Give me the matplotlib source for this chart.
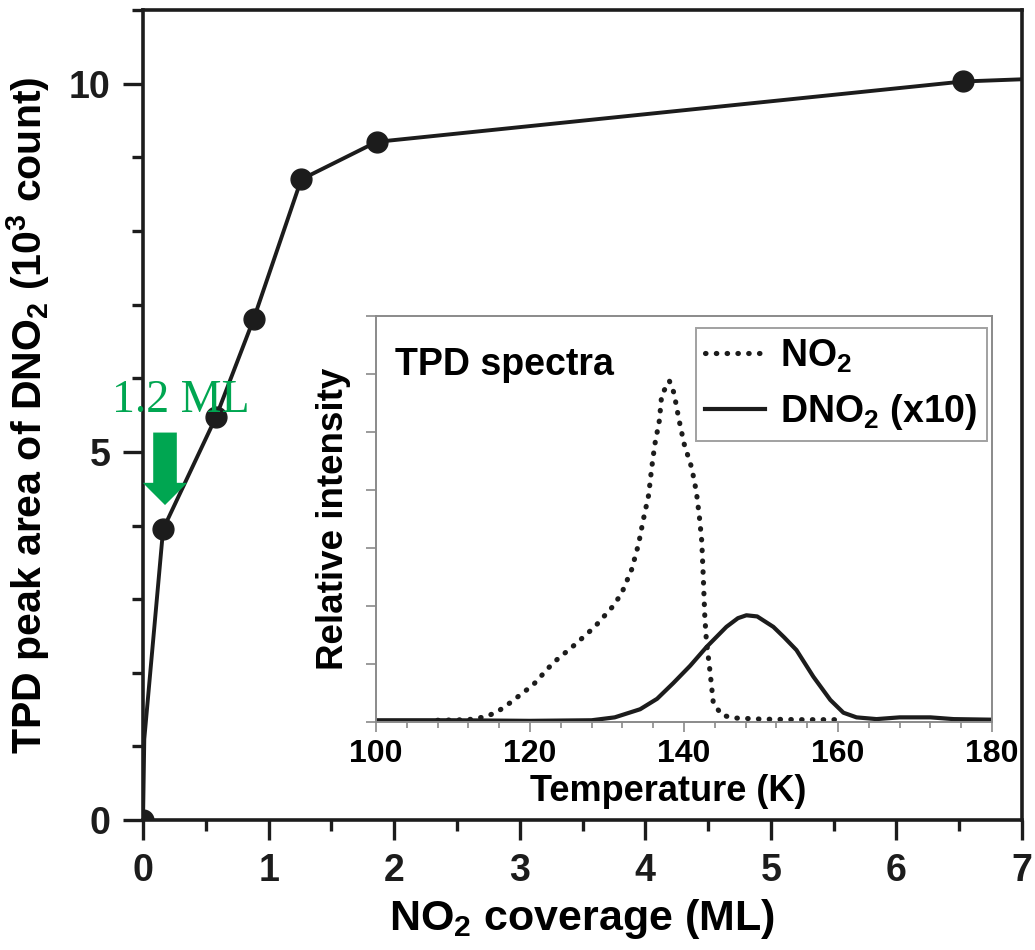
import matplotlib
matplotlib.use("Agg")
import matplotlib.pyplot as plt
from matplotlib.patches import FancyArrowPatch
from matplotlib.ticker import MultipleLocator

plt.rcParams['font.family'] = ['Liberation Sans', 'DejaVu Sans']
plt.rcParams['font.weight'] = 'bold'
plt.rcParams['axes.labelweight'] = 'bold'
plt.rcParams['mathtext.fontset'] = 'custom'
plt.rcParams['mathtext.rm'] = 'Liberation Sans:bold'
plt.rcParams['mathtext.it'] = 'Liberation Sans:bold'
plt.rcParams['mathtext.bf'] = 'Liberation Sans:bold'

# main plot: DNO2 TPD peak area vs NO2 coverage
coverage = [0, 0.01, 0.16, 0.58, 0.88, 1.26, 1.86, 6.53, 7.0]
peak_area = [0, 1.1, 3.95, 5.47, 6.8, 8.7, 9.21, 10.03, 10.06]
marked = [0, 2, 3, 4, 5, 6, 7]

# inset: TPD spectra
t_no2 = [108, 112, 114.2, 115.7, 117.4, 120.4, 123, 125.8, 128.4, 130.8, 131.9,
         133.2, 134.1, 134.7, 135.4, 135.8, 136.2, 136.8, 137.1, 138.1, 138.7,
         139.3, 140, 141, 141.6, 142, 142.3, 142.5, 142.7, 142.9, 143.4, 143.8,
         144.9, 146.4, 150, 155, 160]
i_no2 = [0.03, 0.04, 0.09, 0.17, 0.33, 0.64, 1.02, 1.33, 1.64, 2.0, 2.22,
         2.63, 3.07, 3.48, 3.91, 4.38, 4.78, 5.2, 5.64, 5.88, 5.67,
         5.24, 4.8, 4.38, 3.97, 3.53, 3.12, 2.5, 1.81, 1.41, 0.84, 0.33,
         0.12, 0.07, 0.05, 0.04, 0.04]
t_dno2 = [100, 110, 120, 128, 131, 134.3, 136.5, 138.6, 140.8, 142.9, 145.5,
          147, 148.1, 149.5, 151.6, 153, 154.6, 156.8, 159, 160.7, 162.4, 165,
          168, 172, 175, 180]
i_dno2 = [0.03, 0.03, 0.02, 0.03, 0.08, 0.22, 0.4, 0.67, 0.97, 1.29, 1.64,
          1.79, 1.84, 1.82, 1.64, 1.46, 1.24, 0.78, 0.38, 0.16, 0.08, 0.05,
          0.08, 0.08, 0.05, 0.04]

green = '#00a651'
dark = '#1c1c1c'
grey = '#8a8a8a'

fig = plt.figure(figsize=(10.35, 9.5), dpi=100)
ax = fig.add_axes([0.1382, 0.1368, 0.8493, 0.8526])

ax.plot(coverage, peak_area, color=dark, lw=2.8, marker='o', ms=15,
        markevery=marked)
ax.set_xlim(0, 7)
ax.set_ylim(0, 11)
ax.xaxis.set_major_locator(MultipleLocator(1))
ax.xaxis.set_minor_locator(MultipleLocator(0.5))
ax.yaxis.set_major_locator(MultipleLocator(5))
ax.yaxis.set_minor_locator(MultipleLocator(1))
ax.tick_params(which='both', direction='out', width=2.4, colors=dark,
               top=False, right=False)
ax.tick_params(which='major', length=14.5, labelsize=27, pad=9)
ax.tick_params(which='minor', length=8)
for s in ax.spines.values():
    s.set_linewidth(2.6)
    s.set_color(dark)
ax.set_xlabel(r'NO$_2$ coverage (ML)', fontsize=31, labelpad=6)
ax.set_ylabel(r'TPD peak area of DNO$_2$ (10$^3$ count)', fontsize=29.5,
              labelpad=12)

# 1.2 ML marker
ax.text(0.30, 5.54, '1.2 ML', color=green, fontsize=33, ha='center',
        va='baseline', family='Liberation Serif', weight='normal',
        clip_on=False)
arrow = FancyArrowPatch((0.175, 5.3), (0.175, 4.24),
                        arrowstyle='simple,head_length=16,head_width=32,tail_width=17',
                        mutation_scale=1, color=green, lw=0, zorder=5)
ax.add_patch(arrow)

# inset
axi = fig.add_axes([0.3633, 0.24, 0.5952, 0.4274])
axi.plot(t_no2, i_no2, color=dark, lw=3.7, linestyle=(0, (0.1, 2.0)),
         dash_capstyle='round', label=r'NO$_2$')
axi.plot(t_dno2, i_dno2, color=dark, lw=3.0, label=r'DNO$_2$ (x10)')
axi.set_xlim(100, 180)
axi.set_ylim(0, 7)
axi.xaxis.set_major_locator(MultipleLocator(20))
axi.xaxis.set_minor_locator(MultipleLocator(4))
axi.yaxis.set_major_locator(MultipleLocator(1))
axi.set_yticklabels([])
axi.tick_params(which='both', direction='out', color=grey, width=1.2,
                top=False, right=False)
axi.tick_params(which='major', length=7, labelsize=23, pad=5)
axi.tick_params(which='minor', length=4)
for s in axi.spines.values():
    s.set_linewidth(1.4)
    s.set_color(grey)
axi.set_xlabel('Temperature (K)', fontsize=26, labelpad=4, x=0.474)
axi.set_ylabel('Relative intensity', fontsize=26.5, labelpad=6)
axi.text(0.031, 0.855, 'TPD spectra', transform=axi.transAxes, fontsize=27,
         va='baseline', ha='left')
leg = axi.legend(loc='upper right', bbox_to_anchor=(0.992, 0.97),
                 fontsize=27, frameon=True, fancybox=False, edgecolor=grey,
                 handlelength=1.6, handletextpad=0.4, borderpad=0.25,
                 borderaxespad=0, labelspacing=0.45)
leg.get_frame().set_linewidth(1.4)

fig.savefig('out.png', dpi=100)
